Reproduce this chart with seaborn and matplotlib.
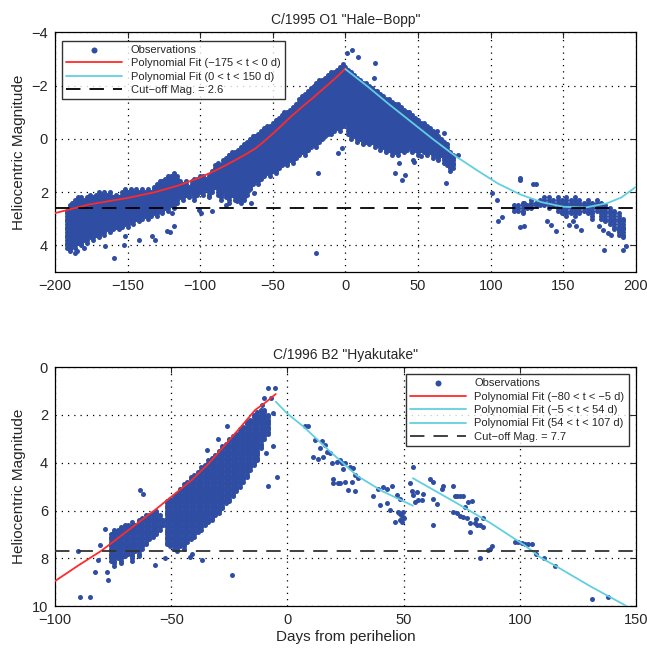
import numpy as np
import pandas as pd
import matplotlib
matplotlib.use("Agg")
import matplotlib.pyplot as plt
import seaborn as sns

# ---- Hale-Bopp: dense part of the observations, brightest / faintest mag per 2-day bin
hb_band_day = [-192, -190, -188, -186, -184, -182, -180, -178, -176, -174, -172, -170,
               -168, -166, -164, -162, -160, -158, -156, -154, -152, -150, -148, -146,
               -144, -142, -140, -138, -136, -134, -132, -130, -128, -126, -124, -122,
               -120, -118, -116, -114, -112, -110, -108, -106, -104, -102, -100, -98,
               -96, -94, -92, -90, -88, -86, -84, -82, -80, -78, -76, -74, -72, -70,
               -68, -66, -64, -62, -60, -58, -56, -54, -52, -50, -48, -46, -44, -42,
               -40, -38, -36, -34, -32, -30, -28, -26, -24, -22, -20, -18, -16, -14,
               -12, -10, -8, -6, -4, -2, 0, 2, 4, 6, 8, 10, 12, 14, 16, 18, 20, 22,
               24, 26, 28, 30, 32, 34, 36, 38, 40, 42, 44, 46, 48, 50, 52, 54, 56, 58,
               60, 62, 64, 66, 68, 70, 72, 74]
hb_band_lo = [2.7, 2.5, 2.4, 2.3, 2.2, 2.2, 2.3, 2.2, 2.1, 2.2, 2.1, 2.0,
              2.1, 2.0, 2.1, 2.0, 2.2, 2.1, 2.2, 2.0, 1.9, 2.0, 1.9, 2.0,
              1.9, 2.0, 1.9, 2.0, 1.9, 2.0, 1.8, 1.7, 1.6, 1.6, 1.5, 1.4,
              1.4, 1.3, 1.4, 1.6, 1.7, 1.6, 1.8, 1.6, 1.5, 1.5, 1.4, 1.4,
              1.5, 1.4, 1.2, 1.0, 0.9, 1.0, 0.8, 0.7, 0.6, 0.5, 0.5, 0.4, 0.3, 0.2,
              0.1, 0.0, -0.1, -0.1, -0.2, -0.3, -0.4, -0.5, -0.5, -0.6, -0.7, -0.8, -0.9, -1.0,
              -1.0, -1.1, -1.2, -1.3, -1.5, -1.6, -1.7, -1.8, -1.9, -2.0, -2.1, -2.2, -2.2, -2.3,
              -2.4, -2.5, -2.5, -2.6, -2.7, -2.8, -2.7, -2.6, -2.5, -2.4, -2.3, -2.2, -2.1, -2.1, -2.0, -1.9, -1.8, -1.8,
              -1.7, -1.6, -1.5, -1.5, -1.4, -1.3, -1.3, -1.2, -1.1, -1.0, -1.0, -0.9, -0.8, -0.7, -0.6, -0.6, -0.5, -0.4,
              -0.3, -0.2, -0.1, 0.0, 0.1, 0.2, 0.5, 0.6]
hb_band_hi = [4.1, 4.2, 4.0, 4.1, 3.9, 4.0, 3.8, 3.9, 3.7, 3.8, 3.6, 3.7,
              3.5, 3.6, 3.4, 3.5, 3.4, 3.3, 3.4, 3.3, 3.2, 3.3, 3.1, 3.2,
              3.0, 3.1, 3.0, 2.9, 3.0, 2.9, 2.8, 2.9, 2.7, 2.8, 2.6, 2.7,
              2.5, 2.6, 2.4, 2.2, 2.3, 2.1, 2.2, 2.0, 2.3, 2.1, 2.0, 2.1,
              1.9, 2.2, 2.0, 1.8, 2.1, 2.3, 2.0, 2.2, 2.4, 2.1, 2.3, 2.2, 2.4, 2.3,
              2.1, 1.9, 1.7, 1.6, 1.7, 1.5, 1.4, 1.3, 1.4, 1.2, 1.3, 1.1, 1.0, 0.9,
              1.0, 0.8, 0.9, 0.7, 0.6, 0.5, 0.6, 0.4, 0.3, 0.2, 0.3, 0.1, 0.0, -0.1,
              -0.2, -0.2, -0.3, -0.4, -0.3, -0.5, -0.6, -0.2, 0.0, -0.1, 0.1, 0.0, 0.2, 0.1, 0.2, 0.1, 0.3, 0.2,
              0.4, 0.3, 0.5, 0.4, 0.6, 0.5, 0.6, 0.4, 0.5, 0.4, 0.3, 0.5, 0.4, 0.6, 0.4, 0.5, 0.6, 0.5,
              0.7, 0.6, 0.8, 0.6, 0.9, 1.0, 1.2, 1.1]

# Hale-Bopp: observations after conjunction (3-day bins)
hb_tail_day = [116, 119, 122, 125, 128, 131, 134, 137, 140, 143, 146, 149, 152, 155,
               158, 161, 164, 167, 170, 173, 176, 179, 182, 185, 188, 191]
hb_tail_lo = [2.5, 2.5, 2.4, 2.5, 2.3, 2.4, 2.3, 2.2, 2.2, 2.3, 2.2, 2.3, 2.2, 2.3,
              2.2, 2.3, 2.4, 2.3, 2.4, 2.3, 2.4, 2.5, 2.6, 2.7, 2.8, 3.0]
hb_tail_hi = [2.7, 2.7, 2.8, 2.6, 2.6, 2.5, 2.5, 2.5, 2.6, 2.5, 2.7, 2.8, 2.9, 2.8,
              2.9, 2.8, 2.7, 2.8, 3.0, 2.7, 3.0, 3.1, 3.2, 3.4, 3.6, 3.7]

# Hale-Bopp: scattered single observations
hb_extra_day = [-189.6, -186, -185, -180, -165.4, -159.7, -152.8, -151.6, -142.4, -133,
                -130.9, -122.8, -120.5, -118.2, -119.4, -100.9, -99.8, -91.7, -90.6, -82.5,
                -80.2, -74.4, -74.4, -71, -69.5, -64.9, -62.9, -51.1, -20.5, -18.8,
                -5, -2.7, 0.8, 4.2, 8.9, 19.3, 20.4, 34.2, 36.5, 39.2,
                41.1, 46.3, 46.9, 52, 63.3, 63.4, 67.6, 69, 69, 71.9,
                77.6, 100.7, 104.1, 105.2, 107.5, 120, 120.3, 120.3, 129.3, 130.9,
                139, 141.3, 144.7, 154, 156.3, 158.6, 162, 174.7, 177, 178.1,
                180.5, 182.8, 188.5, 190.8, 190.8, 193.1, 122.9, 122.9]
hb_extra_mag = [4.14, 4.28, 4.2, 4.1, 4.04, 4.47, 3.97, 3.66, 3.79, 3.66,
                3.79, 3.47, 3.51, 3.29, 2.79, 2.66, 2.79, 2.72, 1.29, 2.47,
                0.6, 0.6, 2.35, 2.16, 2.16, 2.41, 2.04, 1.04, 4.29, 1.29,
                0.54, 0.35, -3.21, -3.34, -3.09, -2.28, -2.84, 1.29, 0.91, 1.54,
                1.35, 0.79, 0.85, 0.66, -0.28, 0.29, -0.21, 1.66, 0.79, 1.04,
                0.6, 2.03, 2.3, 3.1, 2.93, 1.54, 1.46, 3.3, 1.7, 1.69,
                3.1, 3.23, 3.48, 3.23, 3.1, 3.29, 3.41, 3.29, 3.41, 4.19,
                3.54, 3.6, 3.41, 3.35, 4.19, 4.01, 2.41, 3.29]

# Hale-Bopp polynomial fits
hb_fit1_day = [-200, -177, -150, -131, -115, -101, -90, -81, -70, -62, -56.6, -50, -44, -38.3, -30, -22.2, -16, -10.7, -5, 0]
hb_fit1_mag = [2.79, 2.47, 2.22, 2.0, 1.75, 1.47, 1.2, 0.95, 0.62, 0.36, 0.12, -0.2, -0.5, -0.8, -1.2, -1.55, -1.85, -2.1, -2.38, -2.65]
hb_fit2_day = [0, 15, 30, 45, 60, 75, 90, 105, 120, 135, 150, 165, 180, 190, 200]
hb_fit2_mag = [-2.62, -1.98, -1.3, -0.65, 0.0, 0.62, 1.16, 1.68, 2.08, 2.38, 2.55, 2.58, 2.42, 2.2, 1.8]
hb_cutoff = 2.6

# ---- Hyakutake: dense part of the observations (1.5-day bins)
hy_band_day = [-76, -74.5, -73, -71.5, -70, -68.5, -67, -65.5, -64, -62.5, -61, -59.5,
               -58, -56.5, -55, -53.5, -52, -50.5, -49, -47.5, -46, -44.5, -43, -41.5,
               -40, -38.5, -37, -35.5, -34, -32.5, -31, -29.5, -28, -26.5, -25, -23.5,
               -22, -20.5, -19, -17.5, -16, -14.5, -13, -11.5, -10, -8.5]
hy_band_lo = [7.0, 6.8, 6.8, 6.7, 6.6, 6.6, 6.5, 6.6, 6.4, 6.3, 6.2, 6.2,
              6.1, 6.0, 6.2, 6.4, 5.6, 5.5, 5.4, 5.3, 5.1, 4.9, 4.8, 4.6,
              4.5, 4.4, 4.2, 4.1, 3.9, 3.8, 3.7, 3.5, 3.3, 3.2, 3.0, 2.9,
              2.8, 2.6, 2.5, 2.3, 2.2, 2.0, 1.9, 1.8, 1.8, 2.0]
hy_band_hi = [8.1, 8.3, 8.0, 8.2, 7.9, 7.8, 8.1, 7.7, 7.9, 7.6, 7.4, 7.2,
              7.1, 7.0, 6.8, 6.6, 7.4, 7.5, 7.6, 7.7, 7.5, 7.6, 7.3, 7.2,
              7.1, 6.9, 6.8, 6.6, 6.5, 6.4, 6.2, 6.1, 5.9, 5.7, 5.6, 5.4,
              5.2, 5.0, 4.8, 4.6, 4.3, 4.1, 3.9, 3.4, 3.0, 2.8]

# Hyakutake: scattered single observations
hy_extra_day = [-89.2, -84.9, -90, -81.3, -77.8, -77, -82.8, -80.6, -78.5, -63.4,
                -62, -57, -52.7, -36.9, -24, -29.7, -34.7, -26.1, -8.2, -5.3,
                -8.2, -4.6, -41.2, -41.9, -10, -9, -7, -6.4, -6, -11,
                7.6, 9.0, 11.9, 14.8, 16.2, 14, 16.9, 11.2, 13.3, 15.5,
                18.3, 19, 21.2, 22.6, 23.4, 24.1, 24.8, 27, 28.4, 29.1,
                30.5, 19.8, 19.8, 21.9, 22.6, 24.8, 26.2, 27.7, 29.1, 37,
                39.1, 41.3, 42.7, 44.9, 39.9, 42.7, 44.2, 46.3, 47, 48.5,
                47.5, 48.2, 48.9, 49.6, 50.3, 48.5, 49.2, 49.9,
                54.2, 52.8, 53.5, 54.2, 55.6, 56.4, 57.8, 58.5, 54.9, 61.4,
                62.8, 62.8, 64.2, 62.8, 66.4, 67.1, 71.4, 72.1, 72.9, 74.3,
                75.7, 76.4, 77.9, 79.3, 71.4, 72.9, 74.3, 75.7, 77.2, 78.6,
                78.6, 80.7, 81.5, 82.9, 84.3, 81.2, 84.3, 87.2, 87.9, 86.5,
                82.9, 98, 99.4, 100.8, 102.3, 103.7, 105.1, 106.9, 110.2, 115.2,
                131, 138.1]
hy_extra_mag = [9.61, 9.61, 7.7, 8.08, 8.56, 8.91, 8.56, 7.45, 6.79, 5.15,
                5.29, 8.28, 8.0, 8.07, 8.7, 3.03, 3.47, 2.47, 0.89, 0.89,
                4.98, 4.59, 7.8, 7.94, 1.3, 3.6, 1.3, 1.92, 3.3, 1.6,
                2.47, 2.47, 3.05, 3.08, 3.26, 3.4, 3.54, 3.75, 3.86, 3.75,
                3.61, 4.03, 3.96, 3.89, 4.03, 4.28, 4.03, 4.17, 4.24, 4.52,
                4.66, 4.7, 4.87, 4.84, 4.87, 4.8, 5.15, 4.8, 5.18, 5.38,
                5.08, 5.01, 5.12, 4.98, 5.77, 5.68, 5.98, 6.47, 5.35, 5.5,
                6.05, 6.12, 6.19, 6.26, 6.33, 6.4, 6.47, 6.05,
                4.17, 4.87, 5.18, 5.35, 5.22, 5.57, 5.57, 5.29, 5.64, 4.7,
                4.8, 5.5, 5.71, 6.61, 5.08, 4.98, 4.98, 5.4, 5.4, 5.4,
                5.4, 5.87, 5.64, 5.59, 6.05, 6.12, 6.23, 6.29, 6.33, 6.54,
                6.89, 6.54, 6.61, 6.61, 6.68, 6.37, 6.3, 7.59, 7.49, 7.66,
                7.98, 7.31, 7.31, 7.34, 7.38, 7.38, 7.41, 7.8, 7.98, 8.3,
                9.71, 9.61]

# Hyakutake polynomial fits
hy_fit1_day = [-100, -90, -80, -68.4, -57, -50, -41.2, -34, -26.8, -20, -13.9, -9, -5]
hy_fit1_mag = [8.95, 8.3, 7.68, 6.82, 5.98, 5.43, 4.73, 4.05, 3.26, 2.5, 1.8, 1.45, 1.13]
hy_fit2_day = [-5, 0, 7, 18, 30, 41, 54]
hy_fit2_mag = [1.45, 1.95, 2.5, 3.5, 4.55, 5.2, 5.8]
hy_fit3_day = [54, 73, 87, 102, 109, 116, 130, 146]
hy_fit3_mag = [4.65, 5.7, 6.5, 7.45, 7.97, 8.35, 9.15, 10.0]
hy_cutoff = 7.7

DOT = "#2f4ea3"
RED = "#ff2a2a"
CYAN = "#62cfe0"


def observations(band_day, band_lo, band_hi, extra_day, extra_mag, *more_bands):
    # each bin holds reported magnitudes (0.1 mag steps) between the bounds
    rows = []
    for bands in [(band_day, band_lo, band_hi)] + list(more_bands):
        for d, lo, hi in zip(*bands):
            for m in np.arange(lo, hi + 0.001, 0.1):
                rows.append((d, round(m, 1)))
    rows += list(zip(extra_day, extra_mag))
    return pd.DataFrame(rows, columns=["day", "mag"])


def style_axes(ax):
    ax.grid(True, color="k", linestyle=(0, (1, 4)), linewidth=0.9)
    ax.tick_params(direction="in", top=True, right=True, length=4, labelsize=10.5,
                   width=0.8, pad=5)
    for sp in ax.spines.values():
        sp.set_color("k")
        sp.set_linewidth(0.9)


def add_legend(ax, **kw):
    leg = ax.legend(borderaxespad=0, fontsize=8, frameon=True, fancybox=False,
                    edgecolor="k", handlelength=5, labelspacing=0.3, borderpad=0.4,
                    handletextpad=0.8, markerscale=1.2, **kw)
    leg.get_frame().set_linewidth(1.0)


sns.set_style("white")
plt.rcParams["font.family"] = ["Liberation Sans", "DejaVu Sans"]

fig = plt.figure(figsize=(6.47, 6.49), dpi=100)
ax1 = fig.add_axes([0.085, 0.581, 0.898, 0.369])
ax2 = fig.add_axes([0.085, 0.066, 0.898, 0.3685])

# Top panel
hb = observations(hb_band_day, hb_band_lo, hb_band_hi, hb_extra_day, hb_extra_mag,
                  (hb_tail_day, hb_tail_lo, hb_tail_hi))
sns.scatterplot(data=hb, x="day", y="mag", ax=ax1, color=DOT, s=13, linewidth=0,
                label="Observations", zorder=2)
sns.lineplot(x=hb_fit1_day, y=hb_fit1_mag, ax=ax1, color=RED, lw=1.3, sort=False,
             estimator=None, label="Polynomial Fit (\u2212175 < t < 0 d)", zorder=3)
sns.lineplot(x=hb_fit2_day, y=hb_fit2_mag, ax=ax1, color=CYAN, lw=1.3, sort=False,
             estimator=None, label="Polynomial Fit (0 < t < 150 d)", zorder=3)
ax1.axhline(hb_cutoff, color="k", lw=1.3, dashes=(8, 5), label="Cut\u2212off Mag. = 2.6", zorder=3)
ax1.set_xlim(-200, 200)
ax1.set_ylim(5, -4)
ax1.set_xticks(range(-200, 201, 50))
ax1.set_yticks([-4, -2, 0, 2, 4])
ax1.set_xlabel("")
ax1.set_ylabel("Heliocentric Magnitude", fontsize=11)
ax1.set_title('C/1995 O1 "Hale\u2212Bopp"', fontsize=10, pad=6)
style_axes(ax1)
add_legend(ax1, loc="upper left", bbox_to_anchor=(0.012, 0.966))

# Bottom panel
hy = observations(hy_band_day, hy_band_lo, hy_band_hi, hy_extra_day, hy_extra_mag)
sns.scatterplot(data=hy, x="day", y="mag", ax=ax2, color=DOT, s=13, linewidth=0,
                label="Observations", zorder=2)
sns.lineplot(x=hy_fit1_day, y=hy_fit1_mag, ax=ax2, color=RED, lw=1.3, sort=False,
             estimator=None, label="Polynomial Fit (\u221280 < t < \u22125 d)", zorder=3)
sns.lineplot(x=hy_fit2_day, y=hy_fit2_mag, ax=ax2, color=CYAN, lw=1.3, sort=False,
             estimator=None, label="Polynomial Fit (\u22125 < t < 54 d)", zorder=3)
sns.lineplot(x=hy_fit3_day, y=hy_fit3_mag, ax=ax2, color=CYAN, lw=1.3, sort=False,
             estimator=None, label="Polynomial Fit (54 < t < 107 d)", zorder=3)
ax2.axhline(hy_cutoff, color="#333333", lw=1.3, dashes=(8, 5), label="Cut\u2212off Mag. = 7.7", zorder=3)
ax2.set_xlim(-100, 150)
ax2.set_ylim(10, 0)
ax2.set_xticks(range(-100, 151, 50))
ax2.set_yticks(range(0, 11, 2))
ax2.set_xlabel("Days from perihelion", fontsize=11, labelpad=2)
ax2.set_ylabel("Heliocentric Magnitude", fontsize=11)
ax2.set_title('C/1996 B2 "Hyakutake"', fontsize=10, pad=6)
style_axes(ax2)
add_legend(ax2, loc="upper right", bbox_to_anchor=(0.988, 0.971))

fig.savefig("out.png", dpi=100)
